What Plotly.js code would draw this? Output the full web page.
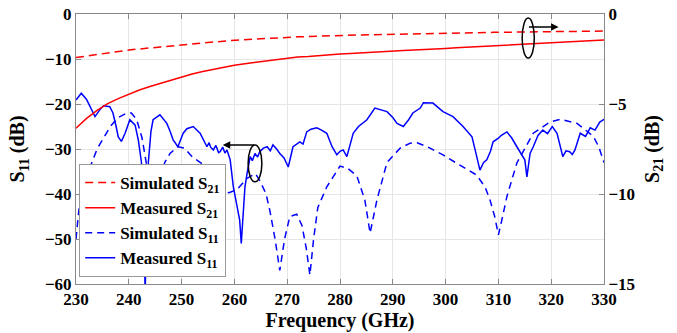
<!DOCTYPE html>
<html><head><meta charset="utf-8">
<script src="https://cdn.plot.ly/plotly-3.0.1.min.js"></script>
<style>html,body{margin:0;padding:0;background:#fff}#chart{width:677px;height:333px}</style>
</head><body><div id="chart"></div>
<script>
// ---- data ----
const simS21Freq = [230,235,240,246,252,259,265,272,284,296,309,320,330];
const simS21 = [-2.42,-2.2,-2.0,-1.83,-1.66,-1.48,-1.38,-1.27,-1.16,-1.08,-1.02,-0.98,-0.95];

const measS21Freq = [230,232,234,236,238,240,242,244,246,248,250,252,254,256,258,260,262,264,266,268,270,272,274,276,278,280,282,284,286,288,290,292,294,296,298,300,302,304,306,308,310,312,314,316,318,320,322,324,326,328,330];
const measS21 = [-6.35,-5.8,-5.35,-4.98,-4.7,-4.45,-4.22,-4.03,-3.85,-3.68,-3.52,-3.33,-3.2,-3.07,-2.95,-2.85,-2.76,-2.68,-2.6,-2.52,-2.45,-2.39,-2.36,-2.3,-2.27,-2.22,-2.19,-2.15,-2.12,-2.09,-2.06,-2.03,-2.0,-1.98,-1.95,-1.91,-1.87,-1.84,-1.82,-1.79,-1.78,-1.74,-1.7,-1.66,-1.63,-1.6,-1.57,-1.54,-1.51,-1.48,-1.45];

const simS11Freq = [230,230.5,231.2,232,233,234,235,236.5,238,239.5,240.5,241.5,242.5,243.3,244,244.5,245,245.8,246.8,247.8,249.3,250.5,252,254.7,256.7,257.6,259,260.5,262.4,264,264.8,266,266.7,267.7,268.6,269.5,270.5,271.8,272.8,273.6,274.3,275,275.8,277.5,280,281.5,283.2,284.7,285.7,287,288.9,291.4,293.3,294.6,296.5,299.5,302.7,305.9,307.5,308.4,309.3,310,310.8,311.6,313.5,316.6,319.8,321.7,324.9,328,329,330];
const simS11 = [-50,-44,-39,-36,-33,-30,-28,-25,-23,-22.1,-22,-23.5,-27.5,-33,-45,-58,-45,-37,-33,-31,-29.5,-29.8,-31.7,-34,-37,-39.5,-39.7,-39,-36.5,-35.5,-37,-40,-43.6,-50,-57,-50,-45,-44.5,-47,-52,-58,-50,-43,-38.4,-33.8,-34.3,-36,-41.3,-48.7,-41.3,-33,-29.8,-28.7,-28.6,-29.5,-31.3,-33.6,-35.8,-38.5,-41.3,-45,-49.1,-45,-40.6,-33.1,-26.5,-24,-23.4,-24.3,-27.2,-29.5,-33];

const measS11Freq = [230,231,232,233,233.6,234.5,235.2,236.4,237,237.6,238,238.6,239.3,240.2,241.2,241.8,242.4,242.8,243.1,243.4,243.7,244.2,244.6,245.9,247.2,247.8,248.4,249.3,250.3,251,252.2,253.5,254.8,255.2,255.5,256,256.5,257,257.3,257.8,258.2,258.6,259.2,259.8,260.5,261,261.3,261.7,262,262.4,263,263.4,263.9,264.4,264.8,265.5,266.2,266.8,267.3,268,268.6,269.4,270.2,271.1,272.4,273,273.7,274.5,275.6,276.5,277.5,278.5,279.4,280,280.6,281.3,282.5,283.5,285.1,286.6,287.8,288.9,290,290.8,292,293,293.8,295.2,295.8,297.6,299.5,301.4,303.3,305,305.9,306.5,307.2,307.8,308.5,309,310,310.5,311.6,312.5,313.5,314.3,315,315.4,316,316.6,317.5,318.4,319.3,320.2,321.1,322.2,322.8,323.5,324,324.5,325.5,326.5,327.4,328.3,329.2,330];
const measS11 = [-19.1,-17.6,-19.0,-21.5,-22.8,-21.3,-20.4,-20.6,-22,-25,-27.3,-28.3,-26.5,-23.5,-24.7,-28,-33,-45,-62,-45,-33,-26,-23.5,-22.4,-24.3,-26,-28,-29.5,-26.5,-25.5,-25,-26.5,-29.5,-28.6,-29.6,-30.2,-29.2,-30.8,-30.6,-29.6,-30.9,-30.2,-32.4,-38.4,-42.8,-45.8,-51,-44.3,-38.4,-35.4,-31.7,-32.6,-31,-31.8,-30.6,-29.8,-29.5,-30.4,-29.1,-30,-31,-32,-34,-29.5,-28.4,-28.9,-26.2,-25.6,-25.3,-25.8,-26.5,-29.5,-31.3,-30.5,-30.2,-31.7,-26.5,-25,-23.5,-20.9,-21.4,-21.7,-23,-24.3,-25,-23.5,-22,-20.9,-19.7,-19.8,-21.7,-22.8,-25,-27.3,-31.7,-34.7,-33,-32.4,-30.5,-28.4,-27.6,-27,-26.2,-27.5,-29.5,-31,-32.4,-36.2,-31,-29.5,-27,-25.8,-26.6,-25,-26.5,-31.7,-30.4,-30.6,-31.2,-30.2,-26.5,-27.2,-25.3,-25.8,-24,-23.4];

const xTicks = [230,240,250,260,270,280,290,300,310,320,330];
const yTicks = [-60,-50,-40,-30,-20,-10,0];
const y2Ticks = [-15,-10,-5,0];

// ---- plot ----
const F = 'Liberation Serif, Times New Roman, serif';
const traces = [
  {x: simS21Freq, y: simS21, yaxis:'y2', mode:'lines', name:'Simulated S<sub>21</sub>',
   line:{color:'#ff0000', width:1.5, dash:'8px,5px'}},
  {x: measS21Freq, y: measS21, yaxis:'y2', mode:'lines', name:'Measured S<sub>21</sub>',
   line:{color:'#ff0000', width:1.5}},
  {x: simS11Freq, y: simS11, mode:'lines', name:'Simulated S<sub>11</sub>',
   line:{color:'#0000ff', width:1.5, dash:'7px,5px'}},
  {x: measS11Freq, y: measS11, mode:'lines', name:'Measured S<sub>11</sub>',
   line:{color:'#0000ff', width:1.5}}
];
const tf = {family:F, size:17, color:'#000', weight:'bold'};
const layout = {
  width:677, height:333,
  margin:{l:76, r:73, t:14, b:49},
  paper_bgcolor:'#fff', plot_bgcolor:'#fff',
  showlegend:true,
  legend:{x:0.006, y:0.026, xanchor:'left', yanchor:'bottom', bgcolor:'#fff',
    bordercolor:'#999', borderwidth:1, font:{family:F, size:17, color:'#000', weight:'bold'},
    tracegroupgap:0},
  xaxis:{range:[230,330], tickvals:xTicks, ticks:'inside', ticklen:5, tickcolor:'#888',
    showline:true, linecolor:'#888', mirror:'ticks', showgrid:true, gridcolor:'#e6e6e6',
    zeroline:false, tickfont:tf,
    title:{text:'Frequency (GHz)', font:{family:F, size:20, color:'#000', weight:'bold'}, standoff:4}},
  yaxis:{range:[-60,0], tickvals:yTicks, ticks:'inside', ticklen:5, tickcolor:'#888',
    showline:true, linecolor:'#888', showgrid:true, gridcolor:'#e6e6e6', zeroline:false,
    tickfont:tf,
    title:{text:'S<sub>11</sub> (dB)', font:{family:F, size:20, color:'#000', weight:'bold'}, standoff:14}},
  yaxis2:{range:[-15,0], tickvals:y2Ticks, overlaying:'y', side:'right', ticks:'inside',
    ticklen:5, tickcolor:'#888', showline:true, linecolor:'#888', showgrid:false, zeroline:false,
    tickfont:tf,
    title:{text:'S<sub>21</sub> (dB)', font:{family:F, size:20, color:'#000', weight:'bold'}, standoff:10}},
  shapes:[
    {type:'circle', xref:'x', yref:'y', x0:262.6, x1:265.2, y0:-37.3, y1:-29.1, line:{color:'#000', width:1.5}},
    {type:'circle', xref:'x', yref:'y', x0:314.5, x1:316.8, y0:-9.8, y1:-0.9, line:{color:'#000', width:1.5}}
  ],
  annotations:[
    {x:257.8, y:-29.1, ax:264, ay:-29.1, axref:'x', ayref:'y', xref:'x', yref:'y', text:'',
     showarrow:true, arrowhead:2, arrowsize:1, arrowwidth:1.5, arrowcolor:'#000'},
    {x:321.4, y:-2.9, ax:315.5, ay:-2.9, axref:'x', ayref:'y', xref:'x', yref:'y', text:'',
     showarrow:true, arrowhead:2, arrowsize:1, arrowwidth:1.5, arrowcolor:'#000'}
  ]
};
Plotly.newPlot('chart', traces, layout, {displayModeBar:false, staticPlot:true});
</script></body></html>
